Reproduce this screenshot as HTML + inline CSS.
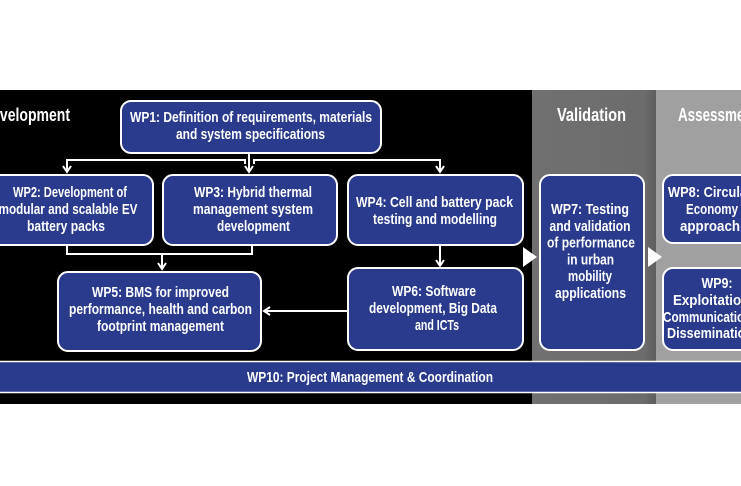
<!DOCTYPE html>
<html><head><meta charset="utf-8"><style>
html,body{margin:0;padding:0;background:#fff;width:741px;height:486px;overflow:hidden}
svg{display:block}
text{font-family:"Liberation Sans Narrow","Liberation Sans",sans-serif;font-weight:bold;fill:#fff}
</style></head><body>
<svg width="741" height="486" viewBox="0 0 741 486" xmlns="http://www.w3.org/2000/svg">
<defs>
<linearGradient id="g1" x1="0" x2="1" y1="0" y2="0">
<stop offset="0" stop-color="#707070"/>
<stop offset="0.9" stop-color="#6c6c6c"/>
<stop offset="1" stop-color="#5e5e5e"/>
</linearGradient>
</defs>
<rect x="0" y="0" width="741" height="486" fill="#fff"/>
<rect x="0" y="90" width="533" height="314" fill="#000"/>
<rect x="532" y="90" width="124" height="314" fill="url(#g1)"/>
<rect x="656" y="90" width="85" height="314" fill="#a0a0a0"/>

<g font-size="18">
<text x="-18" y="121" textLength="88" lengthAdjust="spacingAndGlyphs">Development</text>
<text x="557" y="121" textLength="69" lengthAdjust="spacingAndGlyphs">Validation</text>
<text x="678" y="121" textLength="79" lengthAdjust="spacingAndGlyphs">Assessment</text>
</g>

<g fill="#2a3a8c" stroke="#fff" stroke-width="2">
<rect x="121" y="101" width="260" height="52" rx="10"/>
<rect x="-20" y="175" width="173" height="70" rx="10"/>
<rect x="163" y="175" width="174" height="70" rx="10"/>
<rect x="348" y="175" width="175" height="70" rx="10"/>
<rect x="58" y="272" width="203" height="79" rx="10"/>
<rect x="348" y="268" width="175" height="82" rx="10"/>
<rect x="540" y="175" width="104" height="175" rx="10"/>
<rect x="663" y="175" width="100" height="68" rx="10"/>
<rect x="663" y="268" width="100" height="82" rx="10"/>
</g>

<rect x="0" y="361" width="741" height="32" fill="#2a3a8c"/>
<line x1="0" y1="361.5" x2="741" y2="361.5" stroke="#fff" stroke-width="1.6"/>
<line x1="0" y1="392.5" x2="741" y2="392.5" stroke="#fff" stroke-width="1.6"/>

<g fill="none" stroke="#fff" stroke-width="2">
<path d="M67,172 L67,160 L245,160 L245,164"/>
<path d="M254,164 L254,160 L440,160 L440,172"/>
<path d="M249,154 L249,172"/>
<path d="M63,166 L67,172 L71,166"/>
<path d="M245,166 L249,172 L253,166"/>
<path d="M436,166 L440,172 L444,166"/>
<path d="M67,246 L67,254 L252,254 L252,246"/>
<path d="M162,254 L162,269"/>
<path d="M158,263 L162,269 L166,263"/>
<path d="M440,246 L440,266"/>
<path d="M436,260 L440,266 L444,260"/>
<path d="M347,311 L264,311"/>
<path d="M270,307 L264,311 L270,315"/>
</g>
<polygon points="523,247 523,267 537,257" fill="#fff"/>
<polygon points="648,247 648,267 662,257" fill="#fff"/>

<g font-size="15" text-anchor="middle">
<text x="251" y="122" textLength="242" lengthAdjust="spacingAndGlyphs">WP1: Definition of requirements, materials</text>
<text x="250.5" y="139" textLength="149" lengthAdjust="spacingAndGlyphs">and system specifications</text>

<text x="70" y="197" textLength="114" lengthAdjust="spacingAndGlyphs">WP2: Development of</text>
<text x="68" y="214" textLength="139" lengthAdjust="spacingAndGlyphs">modular and scalable EV</text>
<text x="66" y="231" textLength="78" lengthAdjust="spacingAndGlyphs">battery packs</text>

<text x="253" y="197" textLength="118" lengthAdjust="spacingAndGlyphs">WP3: Hybrid thermal</text>
<text x="253" y="214" textLength="120" lengthAdjust="spacingAndGlyphs">management system</text>
<text x="253.5" y="231" textLength="73" lengthAdjust="spacingAndGlyphs">development</text>

<text x="434.5" y="207" textLength="157" lengthAdjust="spacingAndGlyphs">WP4: Cell and battery pack</text>
<text x="435" y="224" textLength="124" lengthAdjust="spacingAndGlyphs">testing and modelling</text>

<text x="160.5" y="297" textLength="137" lengthAdjust="spacingAndGlyphs">WP5: BMS for improved</text>
<text x="160.5" y="314" textLength="183" lengthAdjust="spacingAndGlyphs">performance, health and carbon</text>
<text x="160.5" y="331" textLength="127" lengthAdjust="spacingAndGlyphs">footprint management</text>

<text x="434" y="296" textLength="84" lengthAdjust="spacingAndGlyphs">WP6: Software</text>
<text x="433" y="313" textLength="128" lengthAdjust="spacingAndGlyphs">development, Big Data</text>
<text x="437" y="330" textLength="44" lengthAdjust="spacingAndGlyphs">and ICTs</text>

<text x="590" y="214" textLength="78" lengthAdjust="spacingAndGlyphs">WP7: Testing</text>
<text x="590" y="230.8" textLength="81" lengthAdjust="spacingAndGlyphs">and validation</text>
<text x="591" y="247.6" textLength="88" lengthAdjust="spacingAndGlyphs">of performance</text>
<text x="590.5" y="264.4" textLength="47" lengthAdjust="spacingAndGlyphs">in urban</text>
<text x="590" y="281.2" textLength="44" lengthAdjust="spacingAndGlyphs">mobility</text>
<text x="590.5" y="298" textLength="71" lengthAdjust="spacingAndGlyphs">applications</text>

<text x="710" y="197" textLength="84" lengthAdjust="spacingAndGlyphs">WP8: Circular</text>
<text x="712" y="214" textLength="52" lengthAdjust="spacingAndGlyphs">Economy</text>
<text x="710" y="231" textLength="60" lengthAdjust="spacingAndGlyphs">approach</text>

<text x="717" y="288" textLength="31" lengthAdjust="spacingAndGlyphs">WP9:</text>
<text x="713" y="305" textLength="80" lengthAdjust="spacingAndGlyphs">Exploitation,</text>
<text x="713" y="322" textLength="100" lengthAdjust="spacingAndGlyphs">Communication &amp;</text>
<text x="710" y="338" textLength="86" lengthAdjust="spacingAndGlyphs">Dissemination</text>
</g>

<text x="247" y="382" font-size="15" textLength="246" lengthAdjust="spacingAndGlyphs">WP10: Project Management &amp; Coordination</text>
</svg>
</body></html>
